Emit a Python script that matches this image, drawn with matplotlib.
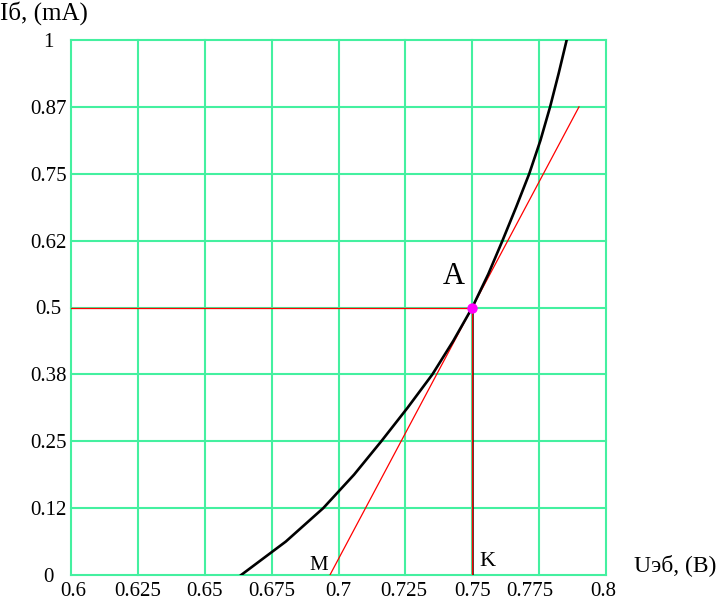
import matplotlib
matplotlib.use("Agg")
import matplotlib.pyplot as plt
import matplotlib.transforms as mtransforms

plt.rcParams['font.family'] = ['Liberation Serif', 'DejaVu Serif']

# Input characteristic
I_curve = [0.0, 0.0625, 0.125, 0.1875, 0.25, 0.3125, 0.375, 0.4375, 0.5,
           0.5625, 0.625, 0.6875, 0.75, 0.8125, 0.875, 0.9375, 1.0]
U_curve = [0.6636, 0.6803, 0.6943, 0.7058, 0.7160, 0.7258, 0.7351, 0.7429, 0.7500,
           0.7560, 0.7613, 0.7664, 0.7713, 0.7755, 0.7791, 0.7823, 0.7853]

# Tangent at operating point A
U_tan = [0.6968, 0.75, 0.7899]
I_tan = [0.0, 0.5, 0.875]

# Operating point A
U_A = 0.75
I_A = 0.5

x_ticks = [0.6, 0.625, 0.65, 0.675, 0.7, 0.725, 0.75, 0.775, 0.8]
x_labels = ["0.6", "0.625", "0.65", "0.675", "0.7", "0.725", "0.75", "0.775", "0.8"]
y_ticks = [0, 0.125, 0.25, 0.375, 0.5, 0.625, 0.75, 0.875, 1.0]
y_labels = ["0", "0.12", "0.25", "0.38", "0.5", "0.62", "0.75", "0.87", "1"]

fig = plt.figure(figsize=(7.21, 6.0), dpi=100)
ax = fig.add_axes([71/721, 25/600, 535/721, 535/600])
ax.set_xlim(0.6, 0.8)
ax.set_ylim(0, 1)

grid_c = '#44f0a0'
for xv in x_ticks:
    ax.axvline(xv, color=grid_c, lw=1.5, zorder=1, clip_on=False)
for yv in y_ticks:
    ax.axhline(yv, color=grid_c, lw=1.5, zorder=1, clip_on=False)

for s in ax.spines.values():
    s.set_visible(False)

ax.set_xticks(x_ticks)
ax.set_xticklabels(x_labels, fontsize=15)
ax.set_yticks(y_ticks)
ax.set_yticklabels(y_labels, fontsize=15, ha='center')
ax.tick_params(length=0)
ax.tick_params(axis='y', pad=16.5)
ax.tick_params(axis='x', pad=5)

# small horizontal shifts of some x tick labels as in the reference
shifts_px = {"0.6": 2, "0.725": -2, "0.775": -9, "0.8": -3}
for lab in ax.get_xticklabels():
    dx = shifts_px.get(lab.get_text(), 0)
    if dx:
        lab.set_transform(lab.get_transform() +
                          mtransforms.ScaledTranslation(dx / 100, 0, fig.dpi_scale_trans))

# Curve
ax.plot(U_curve, I_curve, color='black', lw=1.9, zorder=4, solid_joinstyle='round')
# Tangent
ax.plot(U_tan, I_tan, color='red', lw=0.9, zorder=3)
# Horizontal and vertical projections of A
ax.plot([0.6, U_A], [I_A, I_A], color='red', lw=0.9, zorder=3)
ax.plot([U_A, U_A], [0, I_A], color='red', lw=0.9, zorder=3)
ax.plot([U_A + 0.0003, U_A + 0.0003], [0, I_A], color='#402020', lw=0.6, zorder=3)
# Point A
ax.plot([U_A], [I_A], 'o', color='#ff00ff', ms=6.5, zorder=5)

# Annotations (pixel positions converted to figure fractions)
fig.text(0/721, 1 - 13/600, "Iб, (mA)", fontsize=18, ha='left', va='center')
fig.text(634/721, 1 - 565/600, "Uэб, (B)", fontsize=17, ha='left', va='center')
fig.text(454/721, 1 - 277/600, "A", fontsize=22, ha='center', va='center')
fig.text(319/721, 1 - 565/600, "M", fontsize=15, ha='center', va='center')
fig.text(487/721, 1 - 562/600, "K", fontsize=16, ha='center', va='center')

fig.savefig("out.png", dpi=100)
